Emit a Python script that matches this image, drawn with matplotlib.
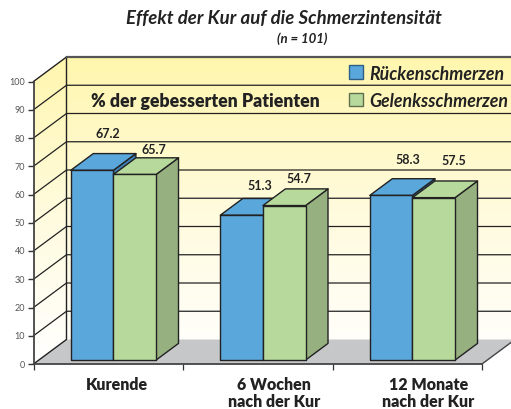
import matplotlib
matplotlib.use("Agg")
import matplotlib.pyplot as plt
import numpy as np
from matplotlib.colors import LinearSegmentedColormap
from matplotlib.patches import Polygon, Rectangle

# Daten
gruppen = ["Kurende", "6 Wochen\nnach der Kur", "12 Monate\nnach der Kur"]
ruecken = [67.2, 51.3, 58.3]
gelenk = [65.7, 54.7, 57.5]
y_ticks = [0, 10, 20, 30, 40, 50, 60, 70, 80, 90, 100]
serien = ["Rückenschmerzen", "Gelenksschmerzen"]

W, H = 511, 409
LEFT, RIGHT, BOTTOM, TOP = 33.5, 482.0, 364.0, 81.5

# Tiefe der 3D-Ansicht in Datenwerten
DX = 33.0 / (RIGHT - LEFT) * 3
DY = 24.5 / (BOTTOM - TOP) * 100

BAR_W = 0.285
D0, D1 = 0.16, 0.84
START = 0.2145

BLAU, BLAU_DUNKEL = "#5AA7DC", "#3F7FB5"
GRUEN, GRUEN_DUNKEL = "#B7D99B", "#97B07F"
LINIE = "#222222"
FONT = "Lato"
FETT = 800

plt.rcParams["font.family"] = [FONT, "DejaVu Sans"]

fig = plt.figure(figsize=(W / 100, H / 100), dpi=100, facecolor="white")
ax = fig.add_axes([LEFT / W, 1 - BOTTOM / H, (RIGHT - LEFT) / W, (BOTTOM - TOP) / H])
ax.patch.set_visible(False)


def p(x, y, d=0.0):
    # Punkt in der Tiefe d (0 = vorne, 1 = Rückwand)
    return (x + d * DX, y + d * DY)


def poly(punkte, farbe, z, lw=1.0, ec=LINIE):
    patch = Polygon(punkte, closed=True, facecolor=farbe, edgecolor=ec, lw=lw,
                    zorder=z, clip_on=False, joinstyle="round")
    ax.add_patch(patch)
    return patch


# Wände mit Farbverlauf
cmap = LinearSegmentedColormap.from_list("wand", ["#FFFFFF", "#FFFBDD", "#FFF6AE"])
verlauf = np.linspace(1, 0, 256).reshape(-1, 1)
waende = [
    [p(0, 0), p(0, 0, 1), p(0, 100, 1), p(0, 100)],
    [p(0, 0, 1), p(3, 0, 1), p(3, 100, 1), p(0, 100, 1)],
]
for wand in waende:
    rand = Polygon(wand, closed=True, facecolor="none", edgecolor="none",
                   transform=ax.transData)
    ax.add_patch(rand)
    rand.set_clip_on(False)
    bild = ax.imshow(verlauf, cmap=cmap, vmin=0, vmax=1, aspect="auto",
                     extent=(-0.2, 3.4, 0, 100 + DY), zorder=1)
    bild.set_clip_box(fig.bbox)
    bild.set_clip_path(rand)
ax.set_xlim(0, 3)
ax.set_ylim(0, 100)

# Boden
poly([p(0, 0), p(3, 0), p(3, 0, 1), p(0, 0, 1)], "#C6C7C9", 2, lw=0)

# Gitter
for v in y_ticks[1:-1]:
    ax.plot(*zip(p(0, v), p(0, v, 1), p(3, v, 1)), color=LINIE, lw=0.9,
            zorder=3, clip_on=False)
ax.plot(*zip(p(0, 0), p(0, 0, 1), p(0, 100, 1)), color=LINIE, lw=1.0,
        zorder=3, clip_on=False)
ax.plot(*zip(p(0, 100), p(0, 100, 1)), color=LINIE, lw=1.0, zorder=3, clip_on=False)
ax.plot(*zip(p(0, 100, 1), p(3, 100, 1)), color="#555555", lw=1.6, zorder=3, clip_on=False)
ax.plot(*zip(p(3, 0), p(3, 0, 1)), color="#444444", lw=1.0, zorder=3, clip_on=False)


def saeule(x, wert, farbe, seite, z):
    x2 = x + BAR_W
    poly([p(x2, 0, D0), p(x2, 0, D1), p(x2, wert, D1), p(x2, wert, D0)], seite, z)
    poly([p(x, wert, D0), p(x, wert, D1), p(x2, wert, D1), p(x2, wert, D0)], farbe, z)
    poly([p(x, 0, D0), p(x2, 0, D0), p(x2, wert, D0), p(x, wert, D0)], farbe, z)


for i in range(len(gruppen)):
    x = i + START
    saeule(x, ruecken[i], BLAU, BLAU_DUNKEL, 4 + i * 2)
    saeule(x + BAR_W, gelenk[i], GRUEN, GRUEN_DUNKEL, 5 + i * 2)

# Wertbeschriftung: Versatz in Pixeln zur Mitte der Säulenvorderseite / Oberkante
versatz_r = [(16, 36), (18, 29), (17, 35)]
versatz_g = [(19, 24), (15, 27), (20, 37)]
for i in range(len(gruppen)):
    x = i + START
    for k, (wert, off) in enumerate([(ruecken[i], versatz_r[i]), (gelenk[i], versatz_g[i])]):
        ax.annotate(f"{wert:.1f}", xy=p(x + BAR_W * (k + 0.5), wert, D0),
                    xytext=(off[0] * 0.72, off[1] * 0.72), textcoords="offset points",
                    ha="center", va="center", fontsize=9, fontweight=700,
                    color="#222222", zorder=20, annotation_clip=False)

# Achsen
for s in ["top", "right"]:
    ax.spines[s].set_visible(False)
for s in ["left", "bottom"]:
    ax.spines[s].set_color("#444444")
    ax.spines[s].set_linewidth(1.3)
    ax.spines[s].set_zorder(15)
ax.set_yticks(y_ticks)
ax.set_yticklabels([str(v) for v in y_ticks], fontsize=6.5, color="#555555")
ax.tick_params(axis="y", length=4, width=1.0, color="#333333", pad=2)
ax.set_xticks([0, 1, 2, 3])
ax.set_xticklabels([])
ax.tick_params(axis="x", length=4, width=0.9, color="#333333")
ax.set_xticks([0.56, 1.61, 2.64], minor=True)
ax.set_xticklabels(gruppen, minor=True, fontsize=11.5, fontweight=FETT, color="#222222",
                   linespacing=1.15)
ax.tick_params(axis="x", which="minor", length=0, pad=9)

# Titel
fig.text(284 / W, 1 - 19 / H, "Effekt der Kur auf die Schmerzintensität", ha="center", va="center",
         fontsize=13.4, fontweight=700, fontstyle="italic", color="#222222")
fig.text(302.5 / W, 1 - 39 / H, "(n = 101)", ha="center", va="center",
         fontsize=9.5, fontweight=700, fontstyle="italic", color="#222222")
fig.text(91 / W, 1 - 102 / H, "% der gebesserten Patienten", ha="left", va="center",
         fontsize=12.7, fontweight=FETT, color="#222222", zorder=20)

# Legende
for name, farbe, rand, yp in zip(serien, [BLAU, GRUEN], ["#2F5F85", "#5F7050"], [65, 92.7]):
    fig.add_artist(Rectangle((349.3 / W, 1 - (yp + 13.7) / H), 14 / W, 13.7 / H,
                             facecolor=farbe, edgecolor=rand, lw=1.0,
                             transform=fig.transFigure, zorder=20))
    fig.text(369 / W, 1 - (yp + 9) / H, name, ha="left", va="center", fontsize=12.8,
             fontweight=700, fontstyle="italic", color="#222222", zorder=20)

fig.savefig("out.png", dpi=100)
